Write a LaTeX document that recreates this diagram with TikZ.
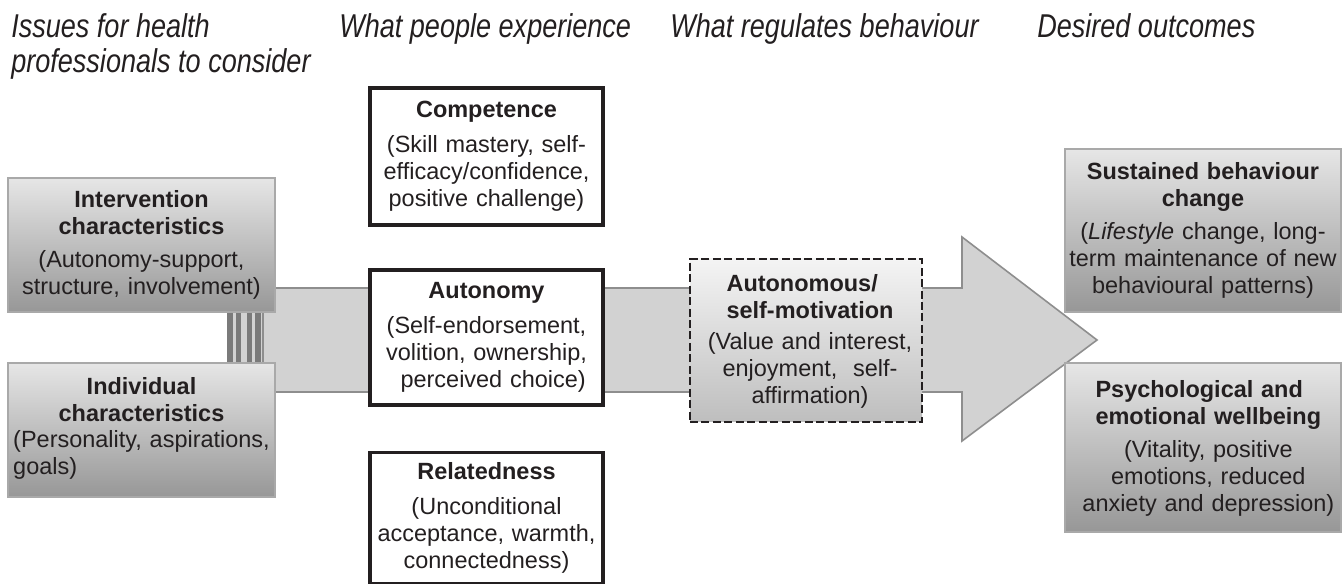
\documentclass[tikz,border=0pt]{standalone}
\usepackage{fontspec}
\setmainfont{Liberation Sans}
\newfontfamily\hdrfont[FakeStretch=0.82]{Liberation Sans}
\definecolor{txt}{HTML}{231F20}
\definecolor{arrowfill}{HTML}{D2D2D2}
\definecolor{arrowline}{HTML}{8E8E8E}
\definecolor{stripe}{HTML}{7A7A7A}
\definecolor{boxtop}{HTML}{E6E6E6}
\definecolor{boxbot}{HTML}{979797}
\definecolor{boxline}{HTML}{A9A9A9}
\definecolor{dashtop}{HTML}{F4F4F4}
\definecolor{dashbot}{HTML}{BEBEBE}
\begin{document}
\begin{tikzpicture}[x=0.75pt,y=-0.75pt,
  body/.style={font=\fontsize{17.6pt}{20.25pt}\selectfont, text=txt, align=center, inner sep=0pt},
  graybox/.style={body, draw=boxline, line width=1.5pt, top color=boxtop, bottom color=boxbot},
  whitebox/.style={body, draw=txt, line width=2.5pt, fill=white, minimum width=174.75pt, text width=170pt},
  dashbox/.style={body, draw=txt, line width=2pt, dash pattern=on 6pt off 2.6pt, top color=dashtop, bottom color=dashbot},
  hdr/.style={font=\hdrfont\itshape\fontsize{24.75pt}{28.5pt}\selectfont, text=txt, anchor=base west, inner sep=0pt}]
\useasboundingbox (0,0) rectangle (1343,584);
\fill[white] (0,0) rectangle (1343,584);

% headers
\node[hdr] (hA1) at (11,38) {Issues for health};
\node[hdr] (hA2) at (11,73) {professionals to consider};
\node[hdr] (hB) at (339,38) {What people experience};
\node[hdr] (hC) at (670,38) {What regulates behaviour};
\node[hdr] (hD) at (1037,38) {Desired outcomes};

% big striped arrow
\coordinate (tail) at (263,340);
\coordinate (tip) at (1097,340);
\fill[arrowfill] (227,288) rectangle (263,392);
\foreach \a/\b in {227/232.5,235.5/241,247/252,255/261}
  \fill[stripe] (\a,288) rectangle (\b,392);
\draw[arrowline, line width=1.2pt, fill=arrowfill, line join=miter]
  (tail |- 0,288) -- (962,288) -- (962,237) -- (tip) -- (962,441) -- (962,392) -- (tail |- 0,392) -- cycle;

% left boxes
\node[graybox, minimum width=200.25pt, minimum height=100.5pt, text width=196pt] (intv) at (141.5,245)
  {{\bfseries Intervention\\characteristics}\\[4pt](Autonomy-support,\\structure, involvement)};
\node[graybox, minimum width=200.25pt, minimum height=100.5pt, text width=196pt] (indiv) at (141.5,430)
  {{\bfseries Individual\\characteristics}\\[4pt]\begin{tabular}{@{}l@{}}(Personality, aspirations,\\goals)\end{tabular}};

% middle boxes
\node[whitebox, minimum height=102.75pt] (comp) at (486.5,156.5)
  {{\bfseries Competence}\\[6pt](Skill mastery, self-\\efficacy/confidence,\\positive challenge)};
\node[whitebox, minimum height=101.25pt] (auto) at (486.5,337.5)
  {{\bfseries Autonomy}\\[6pt](Self-endorsement,\\volition, ownership,\\\hspace*{10pt}perceived choice)};
\node[whitebox, minimum height=98.25pt] (rel) at (486.5,518)
  {{\bfseries Relatedness}\\[6pt](Unconditional\\acceptance, warmth,\\connectedness)};

% regulation box
\node[dashbox, minimum width=174pt, minimum height=122.25pt, text width=172pt] (motiv) at (806,340.5)
  {\hspace*{6pt}{\bfseries\begin{tabular}{@{}l@{}}Autonomous/\\self-motivation\end{tabular}}\\[3pt]\hspace*{6pt}(Value and interest,\\\hspace*{6pt}enjoyment,~ self-\\\hspace*{6pt}affirmation)};

% outcome boxes
\node[graybox, minimum width=207pt, minimum height=122.25pt, text width=204pt] (sust) at (1203,230.5)
  {{\bfseries Sustained behaviour\\change}\\[4pt](\textit{Lifestyle} change, long-\\term maintenance of new\\behavioural patterns)};
\node[graybox, minimum width=207pt, minimum height=126.75pt, text width=204pt] (psych) at (1203,447.5)
  {\hspace*{8pt}{\bfseries\begin{tabular}{@{}l@{}}Psychological and\\emotional wellbeing\end{tabular}}\\[5pt]\hspace*{8pt}(Vitality, positive\\\hspace*{8pt}emotions, reduced\\\hspace*{8pt}anxiety and depression)};
\end{tikzpicture}
\end{document}
